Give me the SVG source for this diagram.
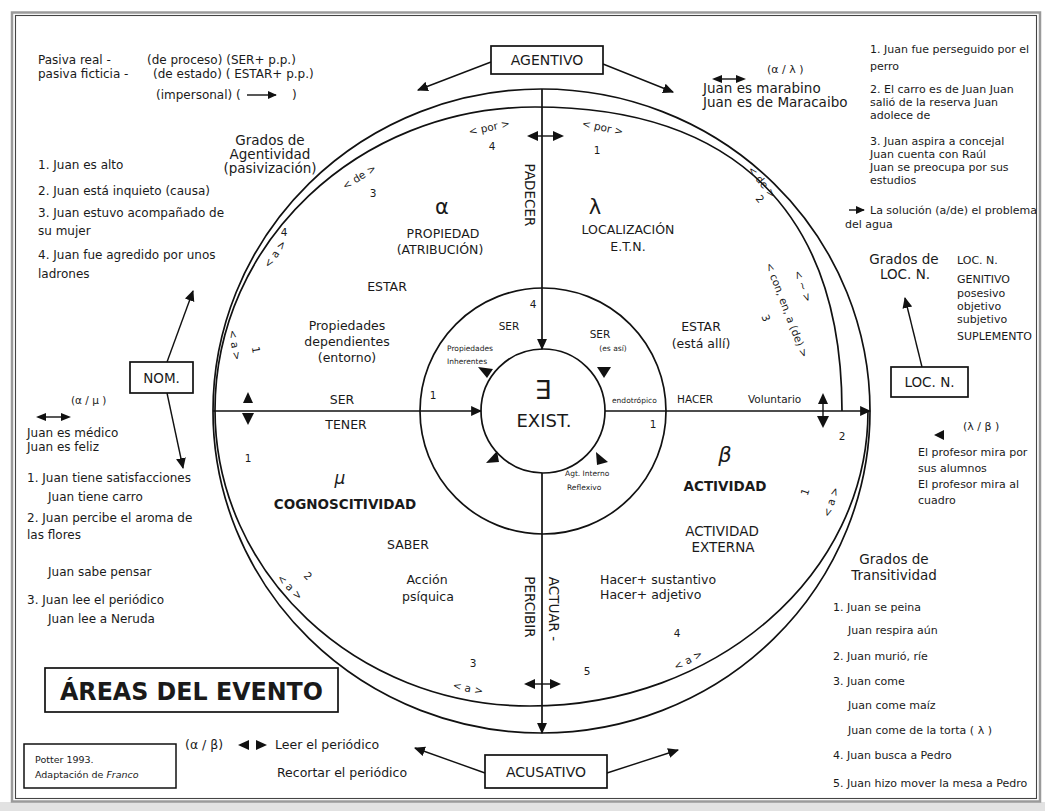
<svg xmlns="http://www.w3.org/2000/svg" width="1045" height="811" viewBox="0 0 1045 811">
<defs>
<style>
text{font-family:"DejaVu Sans","Liberation Sans",sans-serif;fill:#1a1a1a;font-size:12.5px}
.n{font-size:12px}
.s{font-size:11px}
.sm{font-size:10.5px}
.xs{font-size:7.5px}
.m{font-size:13.5px}
.c{text-anchor:middle}
.b{font-weight:bold}
.i{font-style:italic}
.ln{fill:none;stroke:#111;stroke-width:1.7}
.thin{fill:none;stroke:#111;stroke-width:1.4}
.box{fill:#fff;stroke:#111;stroke-width:1.7}
.tri{fill:#111}
</style>
<marker id="ah" viewBox="0 0 10 10" refX="9" refY="5" markerWidth="11" markerHeight="11" markerUnits="userSpaceOnUse" orient="auto"><path d="M0,0.5 L10,5 L0,9.5 z" fill="#111"/></marker>
<marker id="ahs" viewBox="0 0 10 10" refX="9" refY="5" markerWidth="9" markerHeight="9" markerUnits="userSpaceOnUse" orient="auto"><path d="M0,0.5 L10,5 L0,9.5 z" fill="#111"/></marker>
</defs>
<rect x="0" y="0" width="1045" height="811" fill="#fff"/>
<rect x="0" y="802" width="1045" height="9" fill="#e2e2e2"/>
<g id="frame">
<rect x="12" y="12.5" width="1028" height="789" fill="none" stroke="#9a9a9a" stroke-width="2.5"/>
<rect x="15.5" y="15.5" width="1021" height="783" fill="none" stroke="#444" stroke-width="1.1"/>
</g>

<g id="rings">
<ellipse cx="541.5" cy="411" rx="328.5" ry="322" class="ln"/>
<path class="ln" d="M215,410 C215,243 358,107 535,107 C735,107 842,213 842,411"/>
<path class="ln" d="M215,410 C215,573 356,706 530,706 C717,706 868,574 868,411"/>
<circle cx="543" cy="411" r="123" class="ln"/>
<circle cx="543" cy="411" r="62" class="ln"/>
</g>

<g id="connectors">
<line x1="542" y1="89" x2="542" y2="349" class="ln" marker-end="url(#ah)"/>
<line x1="542" y1="473" x2="542" y2="733" class="ln" marker-end="url(#ah)"/>
<line x1="213" y1="411" x2="481" y2="411" class="ln" marker-end="url(#ah)"/>
<line x1="605" y1="411" x2="870" y2="411" class="ln" marker-end="url(#ah)"/>
<line x1="491" y1="62" x2="418" y2="90" class="thin" marker-end="url(#ah)"/>
<line x1="603" y1="64" x2="673" y2="92" class="thin" marker-end="url(#ah)"/>
<line x1="485" y1="773" x2="415" y2="748" class="thin" marker-end="url(#ah)"/>
<line x1="607" y1="773" x2="678" y2="750" class="thin" marker-end="url(#ah)"/>
<line x1="167" y1="362" x2="193" y2="291" class="thin" marker-end="url(#ah)"/>
<line x1="167" y1="393" x2="183" y2="468" class="thin" marker-end="url(#ah)"/>
<line x1="922" y1="367" x2="905" y2="298" class="thin" marker-end="url(#ah)"/>
<polygon class="tri" points="527,136 538,131 538,141"/><polygon class="tri" points="564,136 553,131 553,141"/><line x1="536" y1="136" x2="555" y2="136" class="thin"/>
<polygon class="tri" points="524,684 535,679 535,689"/><polygon class="tri" points="561,684 550,679 550,689"/><line x1="533" y1="684" x2="552" y2="684" class="thin"/>
<polygon class="tri" points="248,392 243,403 253,403"/><polygon class="tri" points="248,425 242,413 254,413"/>
<polygon class="tri" points="823,393 818,404 828,404"/><polygon class="tri" points="823,428 817,416 829,416"/><line x1="823" y1="400" x2="823" y2="420" class="thin"/>
<polygon class="tri" points="478,367 493,369 487,378"/>
<polygon class="tri" points="597,367 611,367 604,378"/>
<polygon class="tri" points="486,463 499,462 497,451"/>
<polygon class="tri" points="596,452 608,462 597,465"/>
<line x1="247" y1="95" x2="276" y2="95" class="thin" marker-end="url(#ahs)"/>
<line x1="849" y1="210" x2="864" y2="210" class="thin" marker-end="url(#ahs)"/>
<polygon class="tri" points="934,435 944,430 944,440"/>
<polygon class="tri" points="238,745 249,740 249,750"/><polygon class="tri" points="267,745 256,740 256,750"/>
<polygon class="tri" points="712,79 722,75 722,83"/><polygon class="tri" points="746,79 736,75 736,83"/><line x1="720" y1="79" x2="738" y2="79" class="thin"/>
<polygon class="tri" points="36,417 46,413 46,421"/><polygon class="tri" points="71,417 61,413 61,421"/><line x1="44" y1="417" x2="63" y2="417" class="thin"/>
</g>

<g id="agentivo"><rect x="491" y="46" width="112" height="28" class="box"/><text x="547" y="65" class="c" style="font-size:14px">AGENTIVO</text></g>
<g id="acusativo"><rect x="485" y="755" width="122" height="33" class="box"/><text x="546" y="777" class="c" style="font-size:14px">ACUSATIVO</text></g>
<g id="nom"><rect x="130" y="362" width="63" height="31" class="box"/><text x="161.5" y="383" class="c" style="font-size:13.5px">NOM.</text></g>
<g id="locn"><rect x="891" y="367" width="77" height="30" class="box"/><text x="929.5" y="387" class="c" style="font-size:13.5px">LOC. N.</text></g>
<g id="areas"><rect x="45" y="668" width="293" height="44" class="box"/><text x="60" y="700" class="b" style="font-size:24px" textLength="263" lengthAdjust="spacingAndGlyphs">ÁREAS DEL EVENTO</text></g>
<g id="potter"><rect x="24" y="744" width="152" height="44" class="box" style="stroke-width:1.5"/><text x="35" y="763" style="font-size:9.5px">Potter 1993.</text><text x="35" y="778" style="font-size:9.5px">Adaptación de <tspan class="i">Franco</tspan></text></g>

<g id="top-left-notes">
<text x="38" y="64" class="n">Pasiva real -</text>
<text x="38" y="78" class="n">pasiva ficticia -</text>
<text x="147" y="64" class="n">(de proceso) (SER+ p.p.)</text>
<text x="153" y="78" class="n">(de estado) ( ESTAR+ p.p.)</text>
<text x="156" y="99" class="n">(impersonal) (</text><text x="292" y="99" class="n">)</text>
<text x="270" y="145" class="c m">Grados de</text>
<text x="270" y="159" class="c m">Agentividad</text>
<text x="270" y="173" class="c m">(pasivización)</text>
<text x="38" y="169" class="n">1. Juan es alto</text>
<text x="38" y="195" class="n">2. Juan está inquieto (causa)</text>
<text x="38" y="217" class="n">3. Juan estuvo acompañado de</text>
<text x="38" y="235" class="n">su mujer</text>
<text x="38" y="259" class="n">4. Juan fue agredido por unos</text>
<text x="38" y="278" class="n">ladrones</text>
</g>

<g id="left-notes">
<text x="71" y="404" class="sm">(α / μ )</text>
<text x="27" y="437" class="n">Juan es médico</text>
<text x="27" y="451" class="n">Juan es feliz</text>
<text x="27" y="482" class="n">1. Juan tiene satisfacciones</text>
<text x="48" y="501" class="n">Juan tiene carro</text>
<text x="27" y="522" class="n">2. Juan percibe el aroma de</text>
<text x="27" y="539" class="n">las flores</text>
<text x="48" y="576" class="n">Juan sabe pensar</text>
<text x="27" y="604" class="n">3. Juan lee el periódico</text>
<text x="48" y="623" class="n">Juan lee a Neruda</text>
</g>

<g id="top-right-notes">
<text x="767" y="73" class="s">(α / λ )</text>
<text x="703" y="93" class="m">Juan es marabino</text>
<text x="703" y="107" class="m">Juan es de Maracaibo</text>
<text x="870" y="53" class="s">1. Juan fue perseguido por el</text>
<text x="870" y="70" class="s">perro</text>
<text x="870" y="93" class="s">2. El carro es de Juan   Juan</text>
<text x="870" y="106" class="s">salió de la reserva  Juan</text>
<text x="870" y="119" class="s">adolece de</text>
<text x="870" y="145" class="s">3. Juan aspira a concejal</text>
<text x="870" y="158" class="s">Juan cuenta con Raúl</text>
<text x="870" y="171" class="s">Juan se preocupa por sus</text>
<text x="870" y="184" class="s">estudios</text>
<text x="870" y="214" class="s">La solución (a/de) el problema</text>
<text x="845" y="228" class="s">del agua</text>
<text x="904" y="264" class="c m">Grados de</text>
<text x="905" y="279" class="c m">LOC. N.</text>
<text x="957" y="264" class="s">LOC. N.</text>
<text x="957" y="283" class="s">GENITIVO</text>
<text x="957" y="297" class="s">posesivo</text>
<text x="957" y="310" class="s">objetivo</text>
<text x="957" y="323" class="s">subjetivo</text>
<text x="957" y="340" class="s">SUPLEMENTO</text>
</g>

<g id="right-notes">
<text x="963" y="430" class="s">(λ / β )</text>
<text x="918" y="456" class="s">El profesor mira por</text>
<text x="918" y="472" class="s">sus alumnos</text>
<text x="918" y="488" class="s">El profesor mira al</text>
<text x="918" y="504" class="s">cuadro</text>
<text x="894" y="564" class="c m">Grados de</text>
<text x="894" y="580" class="c m">Transitividad</text>
<text x="833" y="611" class="s">1. Juan se peina</text>
<text x="848" y="634" class="s">Juan respira aún</text>
<text x="833" y="660" class="s">2. Juan murió, ríe</text>
<text x="833" y="685" class="s">3. Juan come</text>
<text x="848" y="709" class="s">Juan come maíz</text>
<text x="848" y="734" class="s">Juan come de la torta ( λ )</text>
<text x="833" y="759" class="s">4. Juan busca a Pedro</text>
<text x="833" y="787" class="s">5. Juan hizo mover la mesa a Pedro</text>
</g>

<g id="bottom-notes">
<text x="185" y="749">(α / β)</text>
<text x="275" y="749">Leer el periódico</text>
<text x="277" y="777">Recortar el periódico</text>
</g>

<g id="area-alpha">
<text x="442" y="214" class="c" style="font-size:21px">α</text>
<text x="443" y="238" class="c">PROPIEDAD</text>
<text x="440" y="254" class="c">(ATRIBUCIÓN)</text>
<text x="387" y="291" class="c">ESTAR</text>
<text x="347" y="330" class="c">Propiedades</text>
<text x="347" y="346" class="c">dependientes</text>
<text x="347" y="362" class="c">(entorno)</text>
<text x="342" y="404" class="c">SER</text>
</g>
<g id="area-lambda">
<text x="595" y="214" class="c" style="font-size:21px">λ</text>
<text x="628" y="234" class="c">LOCALIZACIÓN</text>
<text x="628" y="251" class="c">E.T.N.</text>
<text x="701" y="331" class="c">ESTAR</text>
<text x="701" y="348" class="c">(está allí)</text>
<text x="677" y="403" class="sm">HACER</text>
<text x="748" y="403" class="sm">Voluntario</text>
</g>
<g id="area-mu">
<text x="346" y="429" class="c">TENER</text>
<text x="340" y="484" class="c i" style="font-size:17px">μ</text>
<text x="345" y="509" class="c b m">COGNOSCITIVIDAD</text>
<text x="408" y="549" class="c">SABER</text>
<text x="427" y="584" class="c">Acción</text>
<text x="428" y="601" class="c">psíquica</text>
</g>
<g id="area-beta">
<text x="725" y="462" class="c i" style="font-size:21px">β</text>
<text x="725" y="491" class="c b m">ACTIVIDAD</text>
<text x="722" y="536" class="c m">ACTIVIDAD</text>
<text x="723" y="552" class="c m">EXTERNA</text>
<text x="600" y="584">Hacer+ sustantivo</text>
<text x="600" y="599">Hacer+ adjetivo</text>
</g>

<g id="axis-labels">
<text transform="translate(530,195) rotate(90)" class="c m" dy=".35em">PADECER</text>
<text transform="translate(530,607) rotate(90)" class="c m" dy=".35em">PERCIBIR</text>
<text transform="translate(554,609) rotate(90)" class="c m" dy=".35em">ACTUAR -</text>
</g>

<g id="center">
<text x="543" y="399" class="c" style="font-size:26px">∃</text>
<text x="544" y="427" class="c" style="font-size:18px">EXIST.</text>
<text x="509" y="330" class="c sm">SER</text>
<text x="600" y="338" class="c sm">SER</text>
<text x="613" y="351" class="c xs">(es así)</text>
<text x="447" y="351" class="xs">Propiedades</text>
<text x="447" y="364" class="xs">Inherentes</text>
<text x="612" y="403" class="xs">endotrópico</text>
<text x="565" y="476" class="xs">Agt. Interno</text>
<text x="567" y="490" class="xs">Reflexivo</text>
<text x="533" y="308" class="c sm">4</text>
<text x="433" y="399" class="c sm">1</text>
<text x="653" y="428" class="c sm">1</text>
</g>

<g id="grade-marks">
<text transform="translate(490,131) rotate(-12)" class="c sm">&lt; por &gt;</text>
<text x="492" y="150" class="c sm">4</text>
<text transform="translate(602,131) rotate(12)" class="c sm">&lt; por &gt;</text>
<text x="597" y="154" class="c sm">1</text>
<text transform="translate(361,180) rotate(-32)" class="c sm">&lt; de &gt;</text>
<text x="373" y="197" class="c sm">3</text>
<text transform="translate(278,256) rotate(-55)" class="c sm">&lt; a &gt;</text>
<text x="284" y="236" class="c sm">4</text>
<text transform="translate(235,345) rotate(80)" class="c sm" dy=".35em">&lt; a &gt;</text>
<text transform="translate(256,350) rotate(80)" class="c sm" dy=".35em">1</text>
<text x="248" y="462" class="c sm">1</text>
<text transform="translate(290,587) rotate(45)" class="c sm" dy=".35em">&lt; a &gt;</text>
<text transform="translate(308,576) rotate(45)" class="c sm" dy=".35em">2</text>
<text transform="translate(468,688) rotate(12)" class="c sm" dy=".35em">&lt; a &gt;</text>
<text x="473" y="667" class="c sm">3</text>
<text x="587" y="675" class="c sm">5</text>
<text x="677" y="637" class="c sm">4</text>
<text transform="translate(688,660) rotate(-28)" class="c sm" dy=".35em">&lt; a &gt;</text>
<text transform="translate(831,502) rotate(-72)" class="c sm" dy=".35em">&lt; a &gt;</text>
<text transform="translate(805,492) rotate(-72)" class="c sm" dy=".35em">1</text>
<text x="842" y="440" class="c sm">2</text>
<text transform="translate(762,182) rotate(50)" class="c sm" dy=".35em">&lt; de &gt;</text>
<text transform="translate(760,199) rotate(50)" class="c sm" dy=".35em">2</text>
<text transform="translate(787,310) rotate(69)" class="c sm" dy=".35em">&lt; con, en, a (de) &gt;</text>
<text transform="translate(803,286) rotate(69)" class="c sm" dy=".35em">&lt; ~ &gt;</text>
<text transform="translate(766,318) rotate(69)" class="c sm" dy=".35em">3</text>
</g>
</svg>
